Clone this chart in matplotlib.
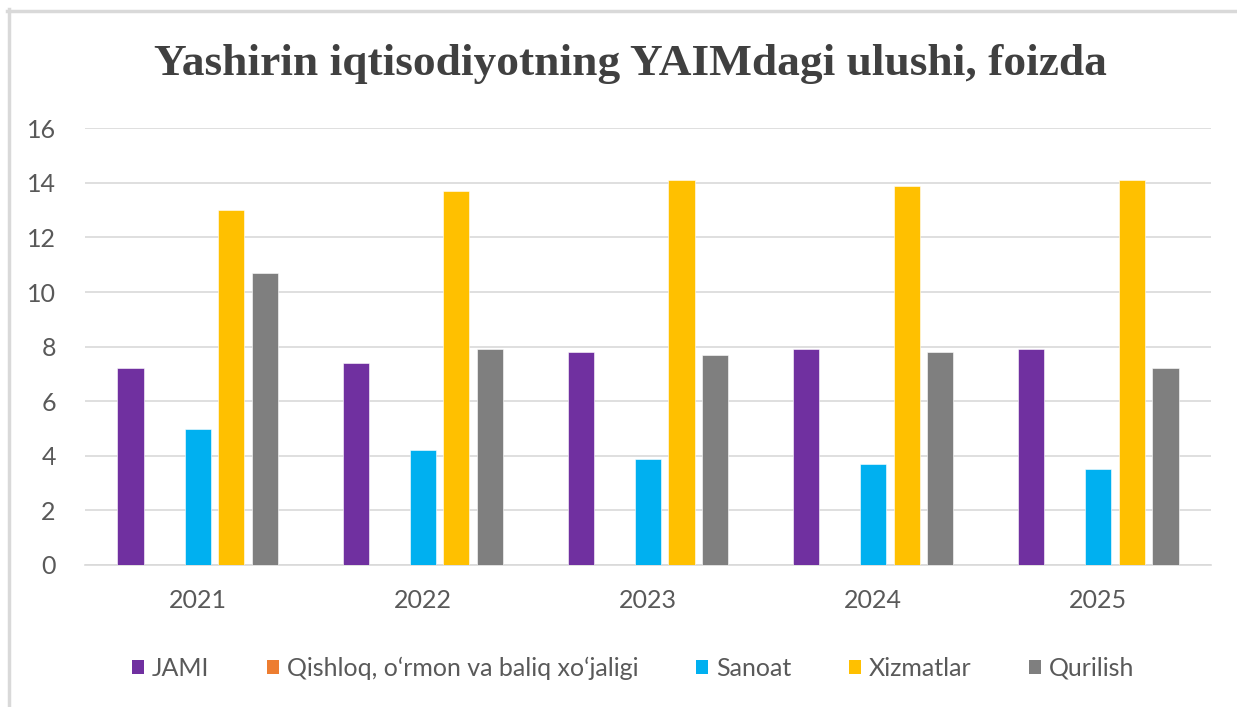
import matplotlib
matplotlib.use("Agg")
import matplotlib.pyplot as plt
from matplotlib.patches import Patch
from matplotlib.lines import Line2D
import numpy as np

years = ["2021", "2022", "2023", "2024", "2025"]
series_names = ["JAMI", "Qishloq, o\u2018rmon va baliq xo\u2018jaligi", "Sanoat", "Xizmatlar", "Qurilish"]
jami = [7.2, 7.4, 7.8, 7.9, 7.9]
qishloq = [0, 0, 0, 0, 0]
sanoat = [5.0, 4.2, 3.9, 3.7, 3.5]
xizmatlar = [13.0, 13.7, 14.1, 13.9, 14.1]
qurilish = [10.7, 7.9, 7.7, 7.8, 7.2]
colors = ["#7030A0", "#ED7D31", "#00B0F0", "#FFC000", "#7F7F7F"]
title = "Yashirin iqtisodiyotning YAIMdagi ulushi, foizda"

W, H = 1237, 707
fig = plt.figure(figsize=(W / 100, H / 100), dpi=100)
ax = fig.add_axes([85 / W, (H - 565) / H, (1211 - 85) / W, (565 - 128.3) / H])

x = np.arange(len(years))
slot = 0.149
width = 0.116
all_series = [jami, qishloq, sanoat, xizmatlar, qurilish]
for i, (vals, c) in enumerate(zip(all_series, colors)):
    ax.bar(x + (i - 2) * slot, vals, width=width, color=c, zorder=3,
           edgecolor="white", linewidth=0.4)

ax.set_xlim(-0.5, len(years) - 0.5)
ax.set_ylim(0, 16)
ax.set_yticks(np.arange(0, 17, 2))
ax.set_xticks(x)
ax.set_xticklabels(years)
ax.yaxis.grid(True, color="#D9D9D9", linewidth=1.2, zorder=0)
ax.set_axisbelow(True)
for s in ["top", "right", "left"]:
    ax.spines[s].set_visible(False)
ax.spines["bottom"].set_color("#D9D9D9")
ax.spines["bottom"].set_linewidth(1.2)
ax.tick_params(axis="both", length=0, labelsize=18, labelcolor="#595959")
ax.tick_params(axis="x", pad=17)
ax.tick_params(axis="y", pad=21)
for lab in ax.get_xticklabels() + ax.get_yticklabels():
    lab.set_family("Lato")
ax.set_facecolor("white")

fig.text(630 / W, 1 - 64 / H, title, ha="center", va="center",
         fontsize=32.7, fontweight="bold", family="Liberation Serif", color="#404040")

handles = [Patch(facecolor=c, edgecolor="none") for c in colors]
leg = fig.legend(handles, series_names, loc="center", bbox_to_anchor=(633 / W, 1 - 668 / H),
                 ncol=5, frameon=False, handlelength=0.5, handleheight=0.5,
                 handletextpad=0.3, columnspacing=2.3,
                 prop={"family": "Lato", "size": 18})
for t in leg.get_texts():
    t.set_color("#595959")

# chart border (top and left)
fig.add_artist(Line2D([7 / W, 1], [1 - 10.5 / H, 1 - 10.5 / H], color="#D9D9D9", linewidth=2.5))
fig.add_artist(Line2D([8.5 / W, 8.5 / W], [0, 1 - 9 / H], color="#D9D9D9", linewidth=2.5))

fig.savefig("out.png", dpi=100, facecolor="white")
